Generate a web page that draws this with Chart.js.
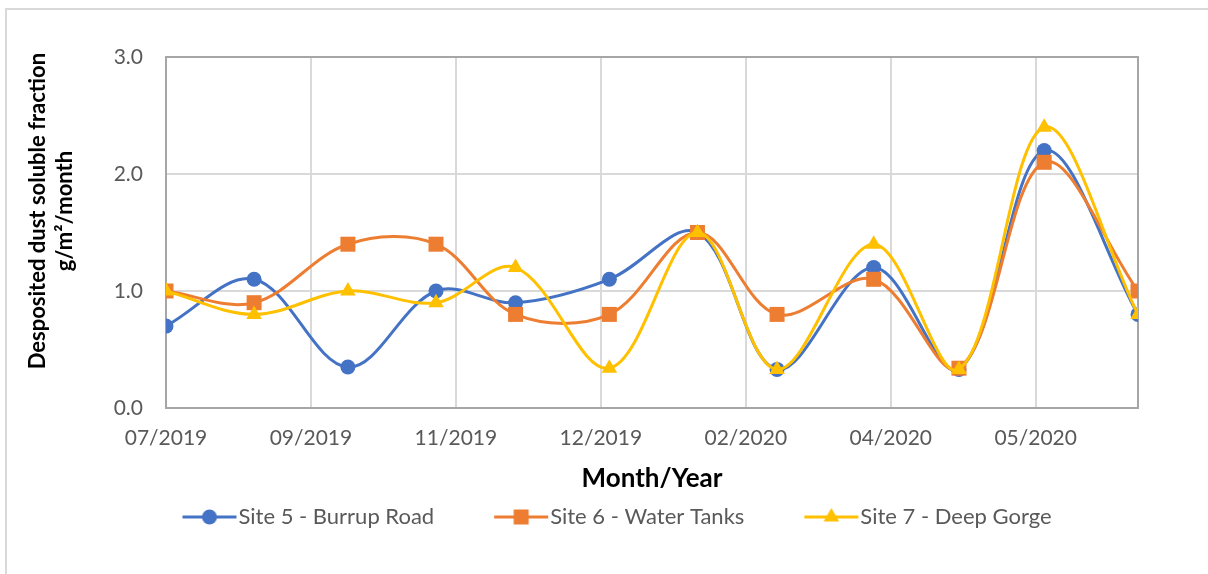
<!DOCTYPE html>
<html>
<head>
<meta charset="utf-8">
<script src="https://cdn.jsdelivr.net/npm/chart.js@4.4.1/dist/chart.umd.min.js"></script>
<style>
    html, body { margin: 0; padding: 0; background: #fff; }
    #wrap { position: relative; width: 1208px; height: 574px; overflow: hidden; }
    #frame { position: absolute; left: 5px; top: 8px; width: 1300px; height: 700px;
             border-top: 2px solid #d9d9d9; border-left: 2px solid #d9d9d9; }
    canvas { position: absolute; left: 0; top: 0; }
</style>
</head>
<body>
<div id="wrap">
    <div id="frame"></div>
    <canvas id="chart" width="1208" height="574"></canvas>
</div>
<script>
// days since the first sample (07/2019)
const sampleDays = [0, 31, 64, 95, 123, 156, 187, 215, 249, 279, 309, 342];

const site5 = [0.7, 1.1, 0.35, 1.0, 0.9, 1.1, 1.5, 0.33, 1.2, 0.33, 2.2, 0.8];
const site6 = [1.0, 0.9, 1.4, 1.4, 0.8, 0.8, 1.5, 0.8, 1.1, 0.34, 2.1, 1.0];
const site7 = [1.0, 0.8, 1.0, 0.9, 1.2, 0.34, 1.5, 0.33, 1.4, 0.33, 2.4, 0.8];

const seriesNames = ["Site 5 - Burrup Road", "Site 6 - Water Tanks", "Site 7 - Deep Gorge"];
const seriesColors = ["#4472C4", "#ED7D31", "#FFC000"];

const tickDays = [0, 51, 102, 153, 204, 255, 306];
const tickLabels = ["07/2019", "09/2019", "11/2019", "12/2019", "02/2020", "04/2020", "05/2020"];

const FONT = "Lato";
const LEGEND_FONT = 22;
const LEGEND_BOX = 95;
const LEGEND_SHIFT = 13;

function toPoints(values) {
    return sampleDays.map(function (d, i) { return { x: d, y: values[i] }; });
}

function drawMarker(ctx, style, x, y) {
    ctx.beginPath();
    if (style === "circle") {
        ctx.arc(x, y, 7.5, 0, Math.PI * 2);
    } else if (style === "rect") {
        ctx.rect(x - 7.5, y - 7.5, 15, 15);
    } else {
        ctx.moveTo(x, y - 9);
        ctx.lineTo(x + 7.8, y + 4.5);
        ctx.lineTo(x - 7.8, y + 4.5);
        ctx.closePath();
    }
    ctx.fill();
}

// legend icon: short line with the marker on it, sitting just before the text
function legendIcon(color, style) {
    const w = LEGEND_BOX + LEGEND_FONT;
    const h = 22;
    const c = document.createElement("canvas");
    c.width = w;
    c.height = h;
    const g = c.getContext("2d");
    g.strokeStyle = color;
    g.fillStyle = color;
    g.lineWidth = 3;
    g.beginPath();
    g.moveTo(w - 56, h / 2);
    g.lineTo(w - 2, h / 2);
    g.stroke();
    drawMarker(g, style, w - 29, h / 2);
    return c;
}

const markerStyles = ["circle", "rect", "triangle"];
const markerRadius = [7.5, 10.6, 9];
const icons = seriesColors.map(function (c, i) { return legendIcon(c, markerStyles[i]); });

const plotFrame = {
    id: "plotFrame",
    afterLayout: function (chart) {
        // Excel puts the legend a little right of the page centre
        chart.legend.left += LEGEND_SHIFT;
        chart.legend.right += LEGEND_SHIFT;
    },
    beforeDatasetsDraw: function (chart) {
        const a = chart.chartArea;
        const ctx = chart.ctx;
        ctx.save();
        ctx.strokeStyle = "#a6a6a6";
        ctx.lineWidth = 2;
        ctx.strokeRect(a.left, a.top, a.right - a.left, a.bottom - a.top);
        ctx.restore();
    }
};

const datasets = [site5, site6, site7].map(function (vals, i) {
    return {
        label: seriesNames[i],
        data: toPoints(vals),
        borderColor: seriesColors[i],
        backgroundColor: seriesColors[i],
        pointBackgroundColor: seriesColors[i],
        pointBorderColor: seriesColors[i],
        pointBorderWidth: 0,
        pointStyle: markerStyles[i],
        pointRadius: markerRadius[i],
        borderWidth: 3,
        tension: 0.35,
        order: 3 - i
    };
});

new Chart(document.getElementById("chart"), {
    type: "line",
    data: { datasets: datasets },
    plugins: [plotFrame],
    options: {
        responsive: false,
        animation: false,
        devicePixelRatio: 1,
        layout: { padding: { left: 20, right: 70, top: 57, bottom: 36 } },
        plugins: {
            tooltip: { enabled: false },
            legend: {
                position: "bottom",
                labels: {
                    usePointStyle: true,
                    pointStyleWidth: LEGEND_BOX,
                    padding: 10,
                    color: "#595959",
                    font: { family: FONT, size: LEGEND_FONT },
                    generateLabels: function (chart) {
                        return chart.data.datasets.map(function (ds, i) {
                            return {
                                text: ds.label,
                                pointStyle: icons[i],
                                fillStyle: ds.borderColor,
                                strokeStyle: ds.borderColor,
                                lineWidth: 0,
                                hidden: false,
                                fontColor: "#595959",
                                datasetIndex: i
                            };
                        });
                    }
                }
            }
        },
        scales: {
            x: {
                type: "linear",
                min: 0,
                max: 342,
                afterBuildTicks: function (scale) {
                    scale.ticks = tickDays.map(function (d) { return { value: d }; });
                },
                afterFit: function (scale) { scale.height = 88; },
                grid: { color: "#d9d9d9", lineWidth: 2, drawTicks: false },
                border: { display: false },
                ticks: {
                    padding: 18,
                    color: "#595959",
                    font: { family: FONT, size: 21 },
                    maxRotation: 0,
                    callback: function (value) {
                        const i = tickDays.indexOf(value);
                        return i >= 0 ? tickLabels[i] : "";
                    }
                },
                title: {
                    display: true,
                    text: "Month/Year",
                    color: "#000",
                    font: { family: FONT, size: 26, weight: "bold" },
                    padding: { top: 0, bottom: 2 }
                }
            },
            y: {
                min: 0,
                max: 3,
                afterFit: function (scale) { scale.width = 146; },
                grid: { color: "#d9d9d9", lineWidth: 2, drawTicks: false },
                border: { display: false },
                ticks: {
                    stepSize: 1,
                    padding: 23,
                    color: "#595959",
                    font: { family: FONT, size: 21 },
                    callback: function (value) { return value.toFixed(1); }
                },
                title: {
                    display: true,
                    text: ["        Desposited dust soluble fraction", "        g/m\u00b2/month"],
                    color: "#000",
                    font: { family: FONT, size: 22, weight: "bold", lineHeight: 1.23 },
                    padding: { top: 4, bottom: 0 }
                }
            }
        }
    }
});
</script>
</body>
</html>
